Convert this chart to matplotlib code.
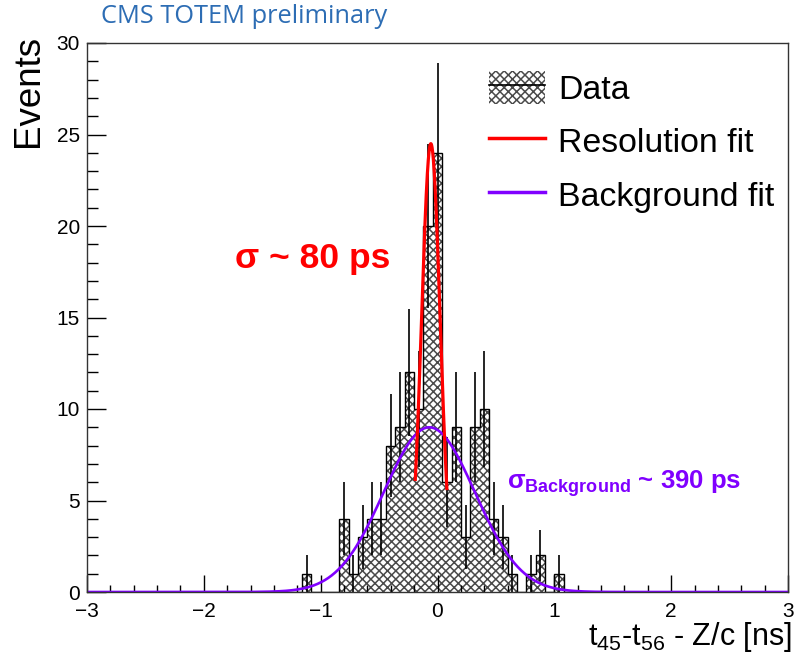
import numpy as np
import matplotlib.pyplot as plt
from matplotlib.patches import Patch
from matplotlib.lines import Line2D
from matplotlib.ticker import MultipleLocator

plt.rcParams['font.family'] = ['Liberation Sans', 'DejaVu Sans']
plt.rcParams['hatch.linewidth'] = 1.1

# histogram: 75 bins of 0.08 ns on [-3, 3], only non-empty bins listed
bin_edges = np.linspace(-3, 3, 76)
bin_low = [-1.16, -0.84, -0.76, -0.68, -0.60, -0.52, -0.44, -0.36, -0.28, -0.20,
           -0.12, -0.04, 0.04, 0.12, 0.20, 0.28, 0.36, 0.44, 0.52, 0.60,
           0.76, 0.84, 1.00]
bin_counts = [1, 4, 1, 3, 4, 4, 8, 9, 12, 10,
              20, 24, 6, 9, 3, 9, 10, 4, 3, 1,
              1, 2, 1]

# fit results (gaussians)
res_amp, res_mean, res_sigma = 24.5, -0.057, 0.080
res_range = (-0.19, 0.08)
bkg_amp, bkg_mean, bkg_sigma = 9.0, -0.07, 0.39

RED = '#ff0000'
VIOLET = '#8000ff'
HATCH = '#4a4a4a'

counts = np.zeros(len(bin_edges) - 1)
for lo, c in zip(bin_low, bin_counts):
    counts[int(round((lo + 3) / 0.08))] = c
centers = 0.5 * (bin_edges[1:] + bin_edges[:-1])


def gaus(x, a, m, s):
    return a * np.exp(-0.5 * ((x - m) / s) ** 2)


fig = plt.figure(figsize=(8.02, 6.56), dpi=100)
ax = fig.add_axes([87 / 802, 1 - 592 / 656, (788 - 87) / 802, (592 - 43) / 656])

# hatched fill + outline
ax.stairs(counts, bin_edges, fill=True, facecolor='white', edgecolor=HATCH,
          hatch='xxxx', linewidth=0)
ax.stairs(counts, bin_edges, color='black', linewidth=1.0)

# poisson error bars
nz = counts > 0
err = np.sqrt(counts[nz])
ax.vlines(centers[nz], counts[nz] - err, counts[nz] + err, color='black', linewidth=1.2)

# fits
xb = np.linspace(-3, 3, 600)
ax.plot(xb, gaus(xb, bkg_amp, bkg_mean, bkg_sigma), color=VIOLET, linewidth=1.9)
xr = np.linspace(res_range[0], res_range[1], 200)
ax.plot(xr, gaus(xr, res_amp, res_mean, res_sigma), color=RED, linewidth=2.3)

ax.set_xlim(-3, 3)
ax.set_ylim(0, 30)
ax.xaxis.set_major_locator(MultipleLocator(1))
ax.xaxis.set_minor_locator(MultipleLocator(0.2))
ax.yaxis.set_major_locator(MultipleLocator(5))
ax.yaxis.set_minor_locator(MultipleLocator(1))
ax.xaxis.set_tick_params(which='major', direction='in', length=12, width=1, labelsize=15, pad=7)
ax.xaxis.set_tick_params(which='minor', direction='in', length=5, width=1)
ax.yaxis.set_tick_params(which='major', direction='in', length=14, width=1, labelsize=15, pad=5)
ax.yaxis.set_tick_params(which='minor', direction='in', length=8, width=1)
for sp in ax.spines.values():
    sp.set_color('#333333')
    sp.set_linewidth(1.0)

# legend
h_data = (Patch(facecolor='white', edgecolor=HATCH, hatch='xxxx', linewidth=0),
          Line2D([], [], color='black', linewidth=1.2))
h_res = Line2D([], [], color=RED, linewidth=2.5)
h_bkg = Line2D([], [], color=VIOLET, linewidth=2.5)
ax.legend([h_data, h_res, h_bkg], ['Data', 'Resolution fit', 'Background fit'],
          loc='upper left', bbox_to_anchor=(489 / 802, 1 - 71 / 656),
          bbox_transform=fig.transFigure, frameon=False, fontsize=24.4,
          handlelength=1.65, handleheight=1.1, handletextpad=0.4,
          labelspacing=0.55, borderpad=0, borderaxespad=0)

# annotations
ax.text(-1.733, 17.69, 'σ ~ 80 ps', color=RED, fontsize=25.5, fontweight='bold',
        ha='left', va='baseline')
ax.text(0.595, 5.63, r'σ$_{\mathregular{Background}}$ ~ 390 ps', color=VIOLET,
        fontsize=18.5, fontweight='bold', ha='left', va='baseline')

# axis titles
fig.text(0.035, 1 - 35 / 656, 'Events', rotation=90, fontsize=26.5, ha='center', va='top')
fig.text(792 / 802, 11 / 656, r'$\mathregular{t_{45}}$-$\mathregular{t_{56}}$ - Z/c [ns]',
         fontsize=22, ha='right', va='baseline')
fig.text(101 / 802, 1 - 23.3 / 656, 'CMS TOTEM preliminary', fontfamily='Open Sans',
         fontsize=18.3, color='#2d6db4', va='baseline')

fig.savefig('out.png', dpi=100)
